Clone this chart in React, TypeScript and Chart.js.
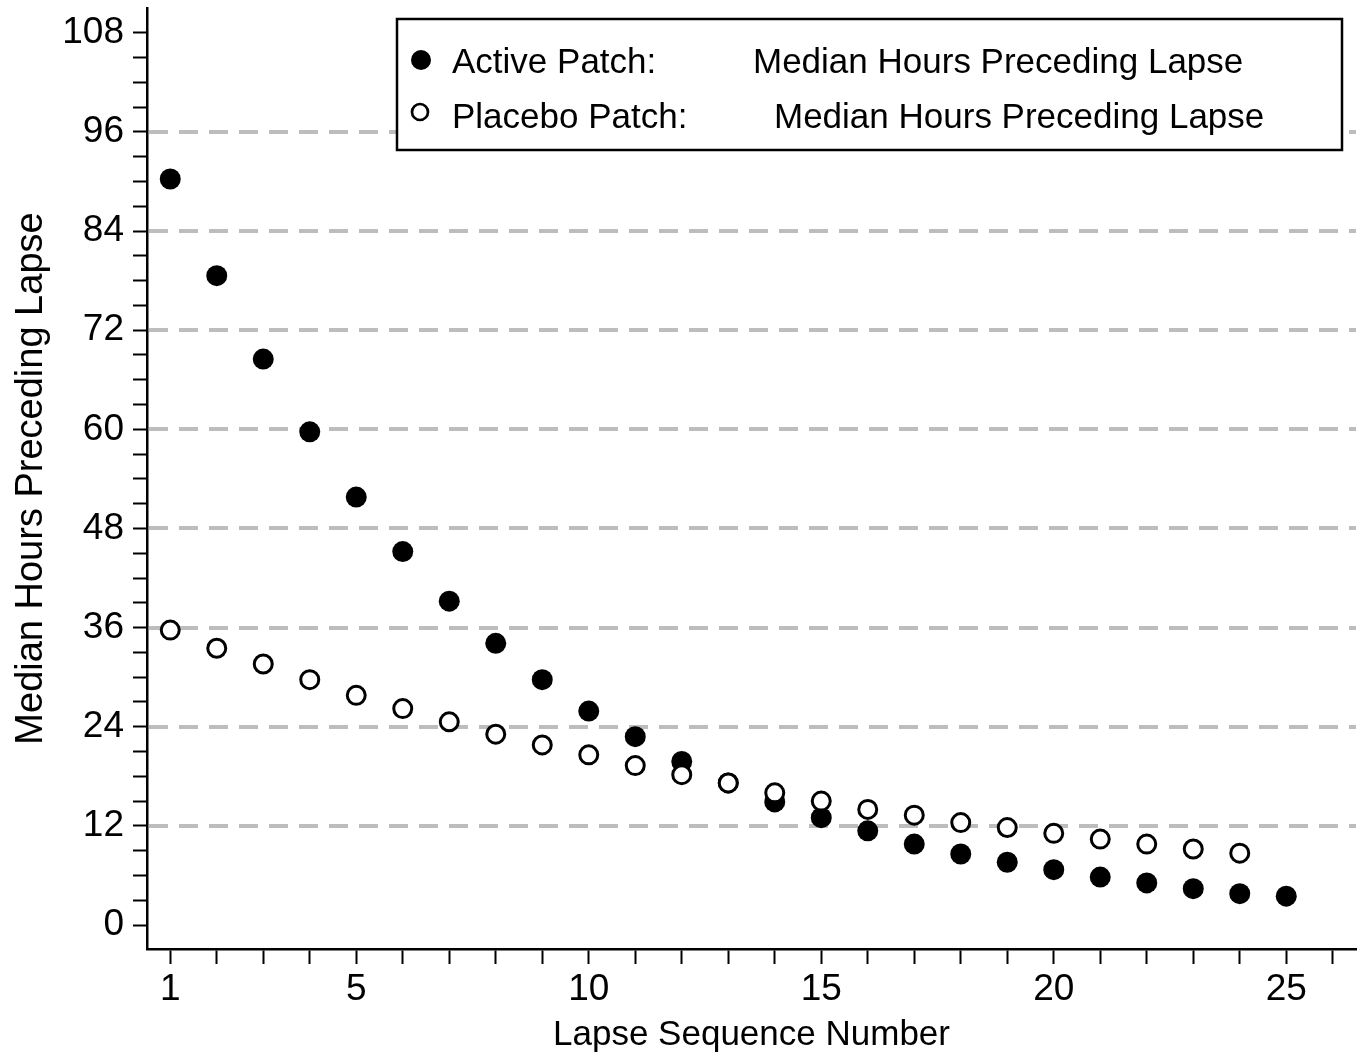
import React, { useEffect, useRef } from "react";
import { Chart, registerables } from "chart.js";

Chart.register(...registerables);

// ---- Data ----
const lapseNumbers = [1, 2, 3, 4, 5, 6, 7, 8, 9, 10, 11, 12, 13, 14, 15, 16, 17, 18, 19, 20, 21, 22, 23, 24, 25];
const activeHours = [90.3, 78.6, 68.5, 59.7, 51.8, 45.2, 39.2, 34.1, 29.7, 25.9, 22.8, 19.8, 17.2, 14.9, 13.0, 11.4, 9.8, 8.6, 7.6, 6.7, 5.8, 5.1, 4.4, 3.8, 3.5];
const placeboLapses = [1, 2, 3, 4, 5, 6, 7, 8, 9, 10, 11, 12, 13, 14, 15, 16, 17, 18, 19, 20, 21, 22, 23, 24];
const placeboHours = [35.7, 33.5, 31.6, 29.7, 27.8, 26.2, 24.6, 23.1, 21.8, 20.6, 19.3, 18.2, 17.2, 16.0, 15.0, 14.0, 13.3, 12.4, 11.8, 11.1, 10.4, 9.8, 9.2, 8.7];

const seriesNames = ["Active Patch:", "Placebo Patch:"];
const legendMeasure = "Median Hours Preceding Lapse";
const xTitle = "Lapse Sequence Number";
const yTitle = "Median Hours Preceding Lapse";

const xTickValues = [1, 2, 3, 4, 5, 6, 7, 8, 9, 10, 11, 12, 13, 14, 15, 16, 17, 18, 19, 20, 21, 22, 23, 24, 25, 26];
const xLabelValues = [1, 5, 10, 15, 20, 25];
const yTickValues = [0, 3, 6, 9, 12, 15, 18, 21, 24, 27, 30, 33, 36, 39, 42, 45, 48, 51, 54, 57, 60, 63, 66, 69, 72, 75, 78, 81, 84, 87, 90, 93, 96, 99, 102, 105, 108];
const yLabelValues = [0, 12, 24, 36, 48, 60, 72, 84, 96, 108];
const yGridValues = [12, 24, 36, 48, 60, 72, 84, 96];

const FONT = "'Liberation Sans', Arial, Helvetica, sans-serif";

const dashedGridPlugin = {
  id: "dashedGrid",
  beforeDatasetsDraw(chart: any) {
    const { ctx, chartArea, scales } = chart;
    ctx.save();
    ctx.strokeStyle = "#bdbdbd";
    ctx.lineWidth = 4;
    ctx.setLineDash([19, 11]);
    for (const v of yGridValues) {
      const y = Math.round(scales.y.getPixelForValue(v));
      ctx.beginPath();
      ctx.moveTo(chartArea.left + 2, y);
      ctx.lineTo(chartArea.right, y);
      ctx.stroke();
    }
    ctx.restore();
  },
};

const boxLegendPlugin = {
  id: "boxLegend",
  afterDatasetsDraw(chart: any) {
    const { ctx } = chart;
    const ds = chart.data.datasets;
    ctx.save();
    ctx.fillStyle = "#ffffff";
    ctx.fillRect(397, 19, 945, 131);
    ctx.strokeStyle = "#000";
    ctx.lineWidth = 2.5;
    ctx.strokeRect(397, 19, 945, 131);

    const rows = [
      { cy: 60, base: 73, valueX: 753 },
      { cy: 112, base: 128, valueX: 774 },
    ];
    ctx.font = `35px ${FONT}`;
    ctx.textBaseline = "alphabetic";
    ctx.textAlign = "left";
    rows.forEach((r, i) => {
      const d = ds[i === 0 ? 1 : 0];
      ctx.beginPath();
      if (i === 0) {
        ctx.arc(421, r.cy, 10, 0, Math.PI * 2);
        ctx.fillStyle = d.pointBackgroundColor;
        ctx.fill();
      } else {
        ctx.arc(420, r.cy, 8, 0, Math.PI * 2);
        ctx.fillStyle = d.pointBackgroundColor;
        ctx.fill();
        ctx.lineWidth = 2.7;
        ctx.strokeStyle = d.pointBorderColor;
        ctx.stroke();
      }
      ctx.fillStyle = "#000";
      ctx.fillText(seriesNames[i], 452, r.base);
      ctx.fillText(legendMeasure, r.valueX, r.base);
    });
    ctx.restore();
  },
};

export default function App() {
  const canvasRef = useRef<HTMLCanvasElement | null>(null);

  useEffect(() => {
    const canvas = canvasRef.current;
    if (!canvas) return;
    document.body.style.margin = "0";
    Chart.defaults.font.family = FONT;
    Chart.defaults.color = "#000";

    const chart = new Chart(canvas, {
      type: "scatter",
      data: {
        datasets: [
          {
            label: seriesNames[1],
            data: placeboLapses.map((x, i) => ({ x, y: placeboHours[i] })),
            pointRadius: 9,
            pointHoverRadius: 9,
            pointBackgroundColor: "#ffffff",
            pointBorderColor: "#000000",
            pointBorderWidth: 3,
            showLine: false,
            order: 0,
          },
          {
            label: seriesNames[0],
            data: lapseNumbers.map((x, i) => ({ x, y: activeHours[i] })),
            pointRadius: 10.5,
            pointHoverRadius: 10.5,
            pointBackgroundColor: "#000000",
            pointBorderColor: "#000000",
            pointBorderWidth: 0,
            showLine: false,
            order: 1,
          },
        ],
      },
      options: {
        animation: false,
        responsive: false,
        events: [],
        layout: { autoPadding: false, padding: { top: 8, right: 4, left: 0, bottom: 0 } },
        plugins: {
          legend: { display: false },
          tooltip: { enabled: false },
        },
        scales: {
          x: {
            type: "linear",
            min: 0.5,
            max: 26.5,
            afterBuildTicks: (scale: any) => {
              scale.ticks = xTickValues.map((v) => ({ value: v }));
            },
            afterFit: (scale: any) => {
              scale.height = 110;
              scale.paddingLeft = 0;
              scale.paddingRight = 0;
            },
            ticks: {
              autoSkip: false,
              maxRotation: 0,
              padding: 4,
              font: { size: 37 },
              color: "#000",
              callback: (v: any) => (xLabelValues.includes(Number(v)) ? String(v) : ""),
            },
            grid: {
              drawOnChartArea: false,
              drawTicks: true,
              tickLength: 15,
              tickWidth: 2,
              tickColor: "#000",
            },
            border: { display: true, color: "#000", width: 2.5 },
            title: {
              display: true,
              text: xTitle,
              font: { size: 35 },
              color: "#000",
              padding: { top: 0, bottom: 3 },
            },
          },
          y: {
            type: "linear",
            min: -2.9,
            max: 111,
            afterBuildTicks: (scale: any) => {
              scale.ticks = yTickValues.map((v) => ({ value: v }));
            },
            afterFit: (scale: any) => {
              scale.width = 147;
              scale.paddingTop = 0;
              scale.paddingBottom = 0;
            },
            ticks: {
              autoSkip: false,
              padding: 9,
              font: { size: 37 },
              color: "#000",
              callback: (v: any) => (yLabelValues.includes(Number(v)) ? String(v) : ""),
            },
            grid: {
              drawOnChartArea: false,
              drawTicks: true,
              tickLength: 14,
              tickWidth: 2,
              tickColor: "#000",
            },
            border: { display: true, color: "#000", width: 2.5 },
            title: {
              display: true,
              text: yTitle,
              font: { size: 38 },
              color: "#000",
              padding: { top: 9, bottom: 0 },
            },
          },
        },
      } as any,
      plugins: [dashedGridPlugin, boxLegendPlugin],
    });

    return () => {
      chart.destroy();
    };
  }, []);

  return (
    <div style={{ position: "absolute", left: 0, top: 0, width: 1360, height: 1059, background: "#fff" }}>
      <canvas ref={canvasRef} width={1360} height={1059} style={{ display: "block" }} />
    </div>
  );
}
